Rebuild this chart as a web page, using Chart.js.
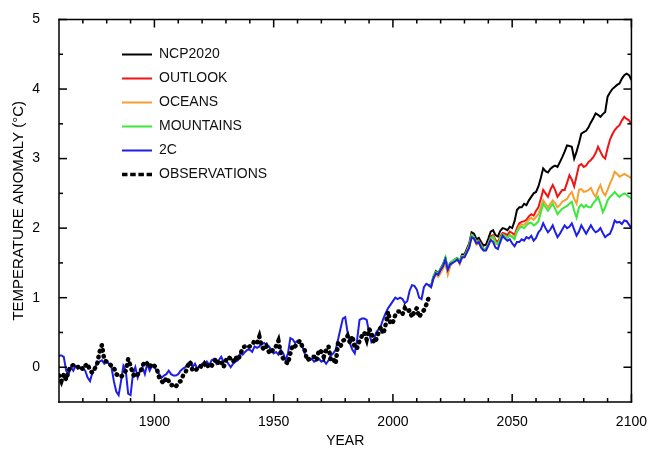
<!DOCTYPE html>
<html>
<head>
<meta charset="utf-8">
<script src="https://cdn.jsdelivr.net/npm/chart.js@4/dist/chart.umd.min.js"></script>
<style>
  html, body { margin: 0; padding: 0; background: #fff; }
  #wrap { width: 651px; height: 450px; }
</style>
</head>
<body>
<div id="wrap"><canvas id="chart" width="651" height="450"></canvas></div>
<script>
// first year of each series
var obsStart = 1860, histStart = 1860, scenStart = 2015;

// observed anomaly, 1860-2015
var observations = [
  -0.12, -0.20, -0.10, -0.18, -0.05, 0.02, 0.03, 0.03, 0.00, 0.02,
  -0.03, 0.02, 0.05, -0.05, -0.08, -0.02, 0.05, 0.22, 0.32, 0.10,
  0.08, 0.05, 0.02, 0.00, -0.10, -0.12, -0.14, -0.10, -0.05, 0.12,
  0.02, -0.10, -0.14, -0.10, -0.08, 0.02, 0.08, 0.05, 0.00, 0.05,
  0.02, -0.02, -0.15, -0.20, -0.23, -0.15, -0.20, -0.26, -0.25, -0.28,
  -0.22, -0.20, -0.12, -0.08, 0.02, 0.08, -0.05, -0.05, -0.02, 0.02,
  0.00, 0.05, 0.00, 0.05, 0.02, 0.08, 0.12, 0.05, 0.08, 0.00,
  0.10, 0.15, 0.12, 0.08, 0.15, 0.10, 0.18, 0.28, 0.30, 0.28,
  0.30, 0.32, 0.38, 0.35, 0.44, 0.30, 0.25, 0.30, 0.22, 0.20,
  0.28, 0.30, 0.38, 0.20, 0.12, 0.08, 0.05, 0.20, 0.32, 0.30,
  0.35, 0.38, 0.30, 0.25, 0.10, 0.12, 0.15, 0.15, 0.10, 0.25,
  0.22, 0.15, 0.25, 0.30, 0.10, 0.12, 0.05, 0.35, 0.30, 0.38,
  0.40, 0.45, 0.35, 0.45, 0.27, 0.28, 0.38, 0.45, 0.50, 0.40,
  0.55, 0.50, 0.35, 0.40, 0.50, 0.58, 0.48, 0.62, 0.80, 0.62,
  0.65, 0.75, 0.80, 0.80, 0.76, 0.85, 0.80, 0.82, 0.72, 0.80,
  0.85, 0.72, 0.78, 0.82, 0.90, 1.00
];

// 2C pathway, 1860-2100
var twoC = [
  0.17, 0.17, 0.15, -0.05, -0.10, 0.00, -0.05, 0.02, 0.00, -0.02,
  -0.02, -0.05, -0.15, -0.20, -0.08, 0.00, 0.05, 0.08, 0.10, 0.05,
  0.08, 0.05, 0.00, -0.20, -0.35, -0.40, -0.20, 0.02, -0.05, -0.38,
  -0.40, -0.10, 0.00, -0.15, -0.05, 0.00, -0.10, 0.05, -0.05, 0.02,
  0.00, -0.05, -0.10, -0.15, -0.12, -0.10, -0.05, -0.10, -0.12, -0.12,
  -0.10, -0.05, -0.02, 0.00, 0.05, 0.08, 0.00, 0.05, -0.02, 0.02,
  0.05, 0.02, 0.08, 0.03, 0.10, 0.12, 0.05, 0.10, 0.15, 0.08,
  0.10, 0.05, 0.00, 0.05, 0.08, 0.10, 0.20, 0.18, 0.22, 0.25,
  0.25, 0.22, 0.30, 0.28, 0.30, 0.33, 0.35, 0.32, 0.30, 0.25,
  0.20, 0.22, 0.18, 0.25, 0.20, 0.10, 0.20, 0.42, 0.40, 0.35,
  0.38, 0.35, 0.30, 0.20, 0.12, 0.10, 0.12, 0.08, 0.10, 0.12,
  0.08, 0.10, 0.05, 0.10, 0.17, 0.20, 0.25, 0.40, 0.55, 0.70,
  0.72, 0.50, 0.34, 0.25, 0.20, 0.40, 0.68, 0.70, 0.70, 0.68,
  0.50, 0.36, 0.40, 0.50, 0.55, 0.60, 0.70, 0.78, 0.85, 0.90,
  0.95, 1.00, 0.98, 1.00, 0.98, 0.92, 0.95, 1.10, 1.18, 1.17,
  1.12, 1.00, 0.98, 1.15, 1.20, 1.18, 1.15, 1.28, 1.35, 1.33,
  1.40, 1.45, 1.55, 1.40, 1.48, 1.50, 1.52, 1.55, 1.50, 1.58,
  1.58, 1.65, 1.72, 1.87, 1.85, 1.78, 1.80, 1.72, 1.68, 1.68,
  1.75, 1.83, 1.80, 1.72, 1.70, 1.80, 1.89, 1.85, 1.82, 1.84,
  1.78, 1.74, 1.80, 1.80, 1.84, 1.82, 1.87, 1.85, 1.89, 1.82,
  1.86, 1.94, 1.98, 2.07, 2.00, 1.94, 1.98, 2.04, 1.95, 1.87,
  1.92, 1.98, 2.04, 2.00, 2.02, 2.07, 1.98, 1.89, 1.95, 2.04,
  1.98, 1.92, 1.98, 2.04, 1.98, 1.94, 1.96, 2.00, 1.93, 1.87,
  1.90, 1.92, 2.00, 2.11, 2.08, 2.09, 2.06, 2.11, 2.10, 2.05,
  2.00
];

// scenarios, 2015-2100
var ncp2020 = [
  1.18, 1.17, 1.30, 1.38, 1.35,
  1.42, 1.48, 1.57, 1.42, 1.50, 1.52, 1.55, 1.57, 1.52, 1.62,
  1.62, 1.70, 1.78, 1.94, 1.92, 1.84, 1.86, 1.80, 1.75, 1.76,
  1.85, 1.95, 1.97, 1.90, 1.88, 1.96, 2.00, 1.99, 1.97, 2.02,
  2.00, 2.10, 2.26, 2.30, 2.30, 2.35, 2.33, 2.40, 2.45, 2.50,
  2.52, 2.60, 2.72, 2.86, 2.82, 2.80, 2.85, 2.88, 2.90, 2.88,
  2.95, 3.02, 3.10, 3.19, 3.18, 3.17, 3.00, 3.10, 3.22, 3.36,
  3.38, 3.40, 3.45, 3.52, 3.58, 3.65, 3.63, 3.60, 3.64, 3.67,
  3.89, 3.95, 4.00, 4.03, 4.06, 4.08, 4.15, 4.20, 4.22, 4.20,
  4.13
];
var outlook = [
  1.18, 1.16, 1.29, 1.36, 1.32,
  1.38, 1.45, 1.52, 1.36, 1.48, 1.52, 1.55, 1.56, 1.50, 1.60,
  1.60, 1.68, 1.76, 1.90, 1.86, 1.80, 1.82, 1.76, 1.70, 1.70,
  1.78, 1.88, 1.90, 1.83, 1.80, 1.88, 1.93, 1.92, 1.90, 1.95,
  1.93, 1.90, 2.00, 2.07, 2.09, 2.10, 2.12, 2.17, 2.20, 2.18,
  2.25, 2.30, 2.42, 2.55, 2.50, 2.45, 2.55, 2.62, 2.55, 2.45,
  2.50, 2.55, 2.55, 2.65, 2.76, 2.70, 2.60, 2.75, 2.90, 2.92,
  2.88, 2.90, 2.95, 2.98, 3.02, 3.08, 3.17, 3.10, 3.03, 3.00,
  3.15, 3.27, 3.35, 3.41, 3.45, 3.48, 3.55, 3.60, 3.57, 3.55,
  3.50
];
var oceans = [
  1.18, 1.15, 1.27, 1.33, 1.30,
  1.35, 1.42, 1.50, 1.33, 1.45, 1.50, 1.53, 1.55, 1.48, 1.58,
  1.58, 1.66, 1.74, 1.88, 1.84, 1.76, 1.78, 1.73, 1.68, 1.68,
  1.76, 1.85, 1.86, 1.78, 1.76, 1.85, 1.90, 1.88, 1.86, 1.90,
  1.88, 1.86, 1.96, 2.03, 2.05, 2.05, 2.08, 2.12, 2.15, 2.12,
  2.16, 2.20, 2.30, 2.40, 2.35, 2.30, 2.35, 2.40, 2.36, 2.30,
  2.33, 2.38, 2.40, 2.42, 2.48, 2.52, 2.42, 2.35, 2.55, 2.56,
  2.52, 2.53, 2.55, 2.58, 2.50, 2.45, 2.55, 2.62, 2.52, 2.47,
  2.55, 2.64, 2.72, 2.81, 2.78, 2.74, 2.76, 2.78, 2.76, 2.74,
  2.72
];
var mountains = [
  1.18, 1.17, 1.31, 1.37, 1.34,
  1.42, 1.47, 1.58, 1.43, 1.50, 1.53, 1.55, 1.57, 1.52, 1.60,
  1.60, 1.67, 1.75, 1.90, 1.87, 1.80, 1.81, 1.75, 1.70, 1.70,
  1.77, 1.86, 1.88, 1.80, 1.77, 1.85, 1.91, 1.89, 1.86, 1.90,
  1.87, 1.84, 1.95, 2.00, 2.02, 2.00, 2.04, 2.07, 2.08, 2.04,
  2.06, 2.10, 2.22, 2.35, 2.30, 2.25, 2.30, 2.35, 2.28, 2.20,
  2.24, 2.28, 2.30, 2.32, 2.35, 2.38, 2.25, 2.15, 2.30, 2.34,
  2.30, 2.33, 2.30, 2.30, 2.36, 2.40, 2.45, 2.35, 2.23, 2.30,
  2.40, 2.45, 2.48, 2.52, 2.48, 2.45, 2.48, 2.50, 2.48, 2.45,
  2.43
];

// tick marks
var xMajor = [1900, 1950, 2000, 2050, 2100];
var xMinor = [1870, 1880, 1890, 1910, 1920, 1930, 1940, 1960, 1970, 1980, 1990,
              2010, 2020, 2030, 2040, 2060, 2070, 2080, 2090];
var yMajor = [0, 1, 2, 3, 4, 5];
var yMinor = [0.5, 1.5, 2.5, 3.5, 4.5];

function pts(start, vals) {
  return vals.map(function (v, i) { return { x: start + i, y: v }; });
}

function series(label, color, start, vals, order) {
  return {
    label: label, data: pts(start, vals), order: order,
    borderColor: color, backgroundColor: color,
    borderWidth: 2, pointRadius: 0
  };
}

var obsSet = series('OBSERVATIONS', '#000', obsStart, observations, 0);
obsSet.borderWidth = 4.5;
obsSet.borderDash = [0.5, 5.5];
obsSet.borderCapStyle = 'round';

// box round the plot, ticks pointing inward (filled, not stroked)
var axisFrame = {
  id: 'axisFrame',
  afterDraw: function (chart) {
    var ctx = chart.ctx, a = chart.chartArea;
    var sx = chart.scales.x, sy = chart.scales.y;
    var w = 1.5, h = w / 2;
    ctx.save();
    ctx.globalAlpha = 1;
    ctx.globalCompositeOperation = 'source-over';
    ctx.fillStyle = '#000';
    ctx.fillRect(a.left - h, a.top - h, a.right - a.left + w, w);
    ctx.fillRect(a.left - h, a.bottom - h, a.right - a.left + w, w);
    ctx.fillRect(a.left - h, a.top - h, w, a.bottom - a.top + w);
    ctx.fillRect(a.right - h, a.top - h, w, a.bottom - a.top + w);
    var xt = function (v, len) {
      var p = sx.getPixelForValue(v);
      ctx.fillRect(p - h, a.bottom - len, w, len);
      ctx.fillRect(p - h, a.top, w, len);
    };
    var yt = function (v, len) {
      var p = sy.getPixelForValue(v);
      ctx.fillRect(a.left, p - h, len, w);
      ctx.fillRect(a.right - len, p - h, len, w);
    };
    xMajor.forEach(function (v) { xt(v, 8); });
    xMinor.forEach(function (v) { xt(v, 4); });
    yMajor.forEach(function (v) { yt(v, 8); });
    yMinor.forEach(function (v) { yt(v, 4); });
    ctx.restore();
  }
};

var legendShift = {
  id: 'legendShift',
  afterLayout: function (chart) {
    chart.legend.left += 53;
    chart.legend.top += 37.5;
  }
};

Chart.defaults.font.family = '"Liberation Sans", Arial, sans-serif';
Chart.defaults.color = '#000';

new Chart(document.getElementById('chart'), {
  type: 'line',
  data: {
    datasets: [
      series('NCP2020', '#000000', scenStart, ncp2020, 5),
      series('OUTLOOK', '#f21414', scenStart, outlook, 4),
      series('OCEANS', '#f5a030', scenStart, oceans, 3),
      series('MOUNTAINS', '#3ce83c', scenStart, mountains, 2),
      series('2C', '#1e1ee6', histStart, twoC, 1),
      obsSet
    ]
  },
  options: {
    responsive: false,
    animation: false,
    devicePixelRatio: 1,
    layout: { padding: { left: 0, right: 18, top: 19.5, bottom: 0 } },
    plugins: {
      tooltip: { enabled: false },
      legend: {
        position: 'chartArea',
        align: 'start',
        labels: {
          usePointStyle: true,
          pointStyle: 'line',
          pointStyleWidth: 30,
          padding: 10,
          color: '#111',
          font: { size: 14 },
          sort: function (a, b) { return a.datasetIndex - b.datasetIndex; },
          generateLabels: function (chart) {
            var items = Chart.defaults.plugins.legend.labels.generateLabels(chart);
            items.forEach(function (it) {
              it.pointStyle = 'line';
              it.lineWidth = 2;
              if (it.text === 'OBSERVATIONS') {
                it.lineWidth = 3.5;
                it.lineDash = [5.5, 2.7];
                it.lineCap = 'butt';
              }
            });
            return items;
          }
        }
      }
    },
    scales: {
      x: {
        type: 'linear', min: 1860, max: 2100,
        afterBuildTicks: function (s) { s.ticks = xMajor.map(function (v) { return { value: v }; }); },
        afterFit: function (s) { s.height = 48; },
        grid: { display: false },
        border: { display: false },
        ticks: { font: { size: 14 }, padding: 4, maxRotation: 0, callback: function (v) { return String(v); } },
        title: { display: true, text: 'YEAR', font: { size: 14 }, padding: { top: 0, bottom: 0 } }
      },
      y: {
        type: 'linear', min: -0.5, max: 5,
        afterBuildTicks: function (s) { s.ticks = yMajor.map(function (v) { return { value: v }; }); },
        afterFit: function (s) { s.width = 59; },
        grid: { display: false },
        border: { display: false },
        ticks: { font: { size: 14 }, padding: 11 },
        title: { display: true, text: 'TEMPERATURE ANOMALY (°C)', font: { size: 15 }, padding: { top: 10, bottom: 0 } }
      }
    }
  },
  plugins: [axisFrame, legendShift]
});
</script>
</body>
</html>
